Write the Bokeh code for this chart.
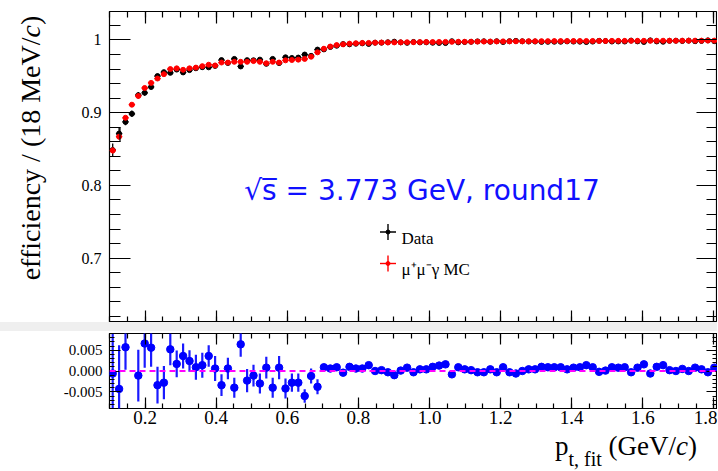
import numpy as np
from bokeh.plotting import figure
from bokeh.models import (Range1d, FixedTicker, LinearAxis, Label, Spacer, Span, Div,
                          CustomJSTickFormatter, ColumnDataSource)
from bokeh.layouts import column, row
from bokeh.embed import file_html
from bokeh.resources import INLINE

# ------------------------------------------------------------------ data
pt_fit = [
    0.109, 0.127, 0.145, 0.163, 0.181, 0.199, 0.217, 0.235, 0.253, 0.271,
    0.289, 0.307, 0.325, 0.343, 0.361, 0.379, 0.397, 0.415, 0.433, 0.451,
    0.469, 0.487, 0.505, 0.523, 0.541, 0.559, 0.577, 0.595, 0.613, 0.631,
    0.649, 0.667, 0.685, 0.703, 0.721, 0.739, 0.757, 0.775, 0.793, 0.811,
    0.829, 0.847, 0.865, 0.883, 0.901, 0.919, 0.937, 0.955, 0.973, 0.991,
    1.009, 1.027, 1.045, 1.063, 1.081, 1.099, 1.117, 1.135, 1.153, 1.171,
    1.189, 1.207, 1.225, 1.243, 1.261, 1.279, 1.297, 1.315, 1.333, 1.351,
    1.369, 1.387, 1.405, 1.423, 1.441, 1.459, 1.477, 1.495, 1.513, 1.531,
    1.549, 1.567, 1.585, 1.603, 1.621, 1.639, 1.657, 1.675, 1.693, 1.711,
    1.729, 1.747, 1.765, 1.783, 1.801]
bin_half_width = 0.009

eff_data = [
    0.8486, 0.8713, 0.8873, 0.8985, 0.9241, 0.9274, 0.9354, 0.9504, 0.9558, 0.9548,
    0.9593, 0.9554, 0.9586, 0.9611, 0.9626, 0.9624, 0.9644, 0.9724, 0.9684, 0.9740,
    0.9636, 0.9723, 0.9721, 0.9730, 0.9672, 0.9740, 0.9682, 0.9762, 0.9753, 0.9758,
    0.9800, 0.9782, 0.9868, 0.9871, 0.9904, 0.9921, 0.9944, 0.9940, 0.9949, 0.9954,
    0.9946, 0.9963, 0.9963, 0.9969, 0.9977, 0.9967, 0.9961, 0.9973, 0.9967, 0.9968,
    0.9962, 0.9960, 0.9958, 0.9983, 0.9967, 0.9972, 0.9975, 0.9981, 0.9982, 0.9975,
    0.9983, 0.9972, 0.9984, 0.9988, 0.9982, 0.9979, 0.9979, 0.9974, 0.9975, 0.9976,
    0.9976, 0.9981, 0.9978, 0.9977, 0.9972, 0.9978, 0.9989, 0.9986, 0.9979, 0.9980,
    0.9979, 0.9992, 0.9981, 0.9973, 0.9995, 0.9980, 0.9976, 0.9988, 0.9990, 0.9986,
    0.9991, 0.9983, 0.9987, 0.9995, 0.9984]
eff_data_err = [
    0.0090, 0.0080, 0.0045, 0.0045, 0.0045, 0.0042, 0.0036, 0.0033, 0.0030, 0.0028,
    0.0025, 0.0023, 0.0021, 0.0022, 0.0022, 0.0020, 0.0022, 0.0020, 0.0020, 0.0019,
    0.0022, 0.0021, 0.0019, 0.0018, 0.0019, 0.0018, 0.0020, 0.0018, 0.0016, 0.0016,
    0.0012, 0.0013, 0.0013, 0.0006, 0.0006, 0.0006, 0.0006, 0.0006, 0.0006, 0.0006,
    0.0006, 0.0004, 0.0004, 0.0004, 0.0004, 0.0004, 0.0004, 0.0004, 0.0004, 0.0004,
    0.0004, 0.0004, 0.0004, 0.0004, 0.0004, 0.0004, 0.0004, 0.0004, 0.0004, 0.0004,
    0.0004, 0.0004, 0.0004, 0.0004, 0.0004, 0.0004, 0.0004, 0.0004, 0.0004, 0.0004,
    0.0004, 0.0004, 0.0004, 0.0004, 0.0004, 0.0004, 0.0004, 0.0004, 0.0004, 0.0004,
    0.0004, 0.0004, 0.0004, 0.0004, 0.0004, 0.0004, 0.0004, 0.0004, 0.0004, 0.0004,
    0.0004, 0.0004, 0.0004, 0.0004, 0.0004]

eff_mc = [
    0.848, 0.867, 0.893, 0.911, 0.923, 0.934, 0.941, 0.947, 0.953, 0.960,
    0.961, 0.959, 0.961, 0.962, 0.964, 0.966, 0.965, 0.969, 0.969, 0.970,
    0.970, 0.970, 0.971, 0.970, 0.968, 0.970, 0.969, 0.972, 0.9725, 0.973,
    0.974, 0.977, 0.983, 0.988, 0.991, 0.993, 0.994, 0.995, 0.9955, 0.996,
    0.996, 0.9963, 0.9965, 0.9966, 0.9967, 0.9968, 0.9969, 0.9970, 0.9971, 0.9972,
    0.9972, 0.9973, 0.9974, 0.9975, 0.9976, 0.9976, 0.9977, 0.9978, 0.9979, 0.9979,
    0.9980, 0.9981, 0.9981, 0.9982, 0.9982, 0.9983, 0.9983, 0.9984, 0.9984, 0.9985,
    0.9985, 0.9985, 0.9986, 0.9986, 0.9986, 0.9987, 0.9987, 0.9987, 0.9988, 0.9988,
    0.9988, 0.9989, 0.9989, 0.9989, 0.9989, 0.9990, 0.9990, 0.9990, 0.9990, 0.9991,
    0.9991, 0.9991, 0.9991, 0.9992, 0.9992]
eff_mc_err = [
    0.0040, 0.0035, 0.0025, 0.0022, 0.0020, 0.0018, 0.0016, 0.0015, 0.0014, 0.0013,
    0.0012, 0.0010, 0.0010, 0.0010, 0.0010, 0.0010, 0.0010, 0.0010, 0.0010, 0.0010,
    0.0010, 0.0010, 0.0010, 0.0010, 0.0010, 0.0010, 0.0010, 0.0010, 0.0010, 0.0010,
    0.0010, 0.0010, 0.0010, 0.0003, 0.0003, 0.0003, 0.0003, 0.0003, 0.0003, 0.0003,
    0.0003, 0.0003, 0.0003, 0.0003, 0.0003, 0.0003, 0.0003, 0.0003, 0.0003, 0.0003,
    0.0003, 0.0003, 0.0003, 0.0003, 0.0003, 0.0003, 0.0003, 0.0003, 0.0003, 0.0003,
    0.0003, 0.0003, 0.0003, 0.0003, 0.0003, 0.0003, 0.0003, 0.0003, 0.0003, 0.0003,
    0.0003, 0.0003, 0.0003, 0.0003, 0.0003, 0.0003, 0.0003, 0.0003, 0.0003, 0.0003,
    0.0003, 0.0003, 0.0003, 0.0003, 0.0003, 0.0003, 0.0003, 0.0003, 0.0003, 0.0003,
    0.0003, 0.0003, 0.0003, 0.0003, 0.0003]

delta_eff = [
    -0.0006, -0.0043, 0.0057, 0.0125, -0.0011, 0.0066, 0.0056, -0.0034, -0.0028, 0.0052,
    0.0017, 0.0036, 0.0024, 0.0009, 0.0014, 0.0036, 0.0006, -0.0034, 0.0006, -0.0040,
    0.0064, -0.0023, -0.0011, -0.0030, 0.0008, -0.0040, 0.0008, -0.0042, -0.0028, -0.0028,
    -0.0060, -0.0012, -0.0038, 0.0009, 0.0006, 0.0009, -0.0004, 0.0010, 0.0006, 0.0006,
    0.0014, 0.0000, 0.0002, -0.0003, -0.0010, 0.0001, 0.0008, -0.0003, 0.0004, 0.0004,
    0.0010, 0.0013, 0.0016, -0.0008, 0.0009, 0.0004, 0.0002, -0.0003, -0.0003, 0.0004,
    -0.0003, 0.0009, -0.0003, -0.0006, 0.0000, 0.0004, 0.0004, 0.0010, 0.0009, 0.0009,
    0.0009, 0.0004, 0.0008, 0.0009, 0.0014, 0.0009, -0.0002, 0.0001, 0.0009, 0.0008,
    0.0009, -0.0003, 0.0008, 0.0016, -0.0006, 0.0010, 0.0014, 0.0002, 0.0000, 0.0005,
    0.0000, 0.0008, 0.0004, -0.0003, 0.0008]
delta_eff_err = [
    0.0120, 0.0105, 0.0054, 0.0030, 0.0062, 0.0058, 0.0046, 0.0044, 0.0040, 0.0038,
    0.0032, 0.0030, 0.0026, 0.0030, 0.0030, 0.0026, 0.0030, 0.0026, 0.0026, 0.0024,
    0.0030, 0.0028, 0.0026, 0.0024, 0.0026, 0.0024, 0.0028, 0.0024, 0.0022, 0.0022,
    0.0016, 0.0018, 0.0018, 0.0006, 0.0006, 0.0006, 0.0006, 0.0006, 0.0006, 0.0006,
    0.0006, 0.0006, 0.0006, 0.0006, 0.0006, 0.0006, 0.0006, 0.0006, 0.0006, 0.0006,
    0.0006, 0.0006, 0.0006, 0.0006, 0.0006, 0.0006, 0.0006, 0.0006, 0.0006, 0.0006,
    0.0006, 0.0006, 0.0006, 0.0006, 0.0006, 0.0006, 0.0006, 0.0006, 0.0006, 0.0006,
    0.0006, 0.0006, 0.0006, 0.0006, 0.0006, 0.0006, 0.0006, 0.0006, 0.0006, 0.0006,
    0.0006, 0.0006, 0.0006, 0.0006, 0.0006, 0.0006, 0.0006, 0.0006, 0.0006, 0.0006,
    0.0006, 0.0006, 0.0006, 0.0006, 0.0006]

x_ticks = [0.2, 0.4, 0.6, 0.8, 1.0, 1.2, 1.4, 1.6, 1.8]
x_tick_labels = ["0.2", "0.4", "0.6", "0.8", "1.0", "1.2", "1.4", "1.6", "1.8"]
y_top_ticks = [0.7, 0.8, 0.9, 1.0]
y_top_tick_labels = ["0.7", "0.8", "0.9", "1"]
y_bot_ticks = [-0.005, 0.0, 0.005]
y_bot_tick_labels = ["-0.005", "0.000", "0.005"]

energy_text = "\u221as\u0305 = 3.773 GeV, round17"
legend_labels = ["Data", "\u03bc\u207a\u03bc\u207b\u03b3 MC"]
y_title = ["efficiency / (18 MeV/", "c", ")"]
x_title = ["p", "t, fit", "(GeV/", "c", ")"]

for arr in (eff_data, eff_data_err, eff_mc, eff_mc_err, delta_eff, delta_eff_err):
    assert len(arr) == len(pt_fit)

# ------------------------------------------------------------------ layout (page pixels)
X_RANGE = (0.1, 1.81)
Y_TOP_RANGE = (0.6114, 1.0392)
Y_BOT_RANGE = (-0.009, 0.009)

W = 717
YDIV_W = 60
FRAME_L = 109
TOP_H, TOP_MT = 322, 11
GAP = 9
BOT_MT, BOT_FH, BOT_MB = 2, 75, 23
BOT_H = BOT_MT + BOT_FH + BOT_MB
XDIV_H = 471 - (TOP_H + GAP + BOT_H)

FRAME_R = W
TOP_FT = TOP_MT
TOP_FB = TOP_H
XDIV_TOP = TOP_H + GAP + BOT_H


def sx(px):
    return X_RANGE[0] + (px - FRAME_L) * (X_RANGE[1] - X_RANGE[0]) / (FRAME_R - FRAME_L)


def sy_top(py):
    return Y_TOP_RANGE[1] - (py - TOP_FT) * (Y_TOP_RANGE[1] - Y_TOP_RANGE[0]) / (TOP_FB - TOP_FT)


SERIF = "Liberation Serif"


def tick_formatter(tick_values, tick_texts):
    return CustomJSTickFormatter(args=dict(tv=tick_values, tt=tick_texts), code="""
        let best = 0;
        for (let i = 1; i < tv.length; i++) {
            if (Math.abs(tv[i] - tick) < Math.abs(tv[best] - tick)) best = i;
        }
        return tt[best];
    """)


def add_axis(fig, side, ticks, minor, tick_in, minor_in, labels=None,
             font_size="16px", standoff=5):
    ax = LinearAxis(ticker=FixedTicker(ticks=ticks, minor_ticks=list(minor)))
    ax.axis_line_color = None
    ax.major_tick_in = tick_in
    ax.major_tick_out = 0
    ax.minor_tick_in = minor_in
    ax.minor_tick_out = 0
    ax.major_tick_line_color = "black"
    ax.minor_tick_line_color = "black"
    ax.major_tick_line_width = 1.2
    ax.minor_tick_line_width = 1.2
    if labels is None:
        ax.formatter = CustomJSTickFormatter(code="return '';")
        ax.major_label_text_font_size = "0px"
        ax.major_label_standoff = 0
    else:
        ax.formatter = tick_formatter(ticks, labels)
        ax.major_label_text_font = SERIF
        ax.major_label_text_font_size = font_size
        ax.major_label_text_color = "black"
        ax.major_label_standoff = standoff
    fig.add_layout(ax, side)
    return ax


x_minor = [round(v, 3) for v in np.arange(0.10, 1.8001, 0.05)]
y_top_minor = [round(v, 3) for v in np.arange(0.62, 1.0401, 0.02)]
y_bot_minor = [round(v, 4) for v in np.arange(-0.009, 0.00901, 0.001)]

# ------------------------------------------------------------------ top panel
top = figure(width=W - YDIV_W, height=TOP_H, x_range=Range1d(*X_RANGE),
             y_range=Range1d(*Y_TOP_RANGE),
             output_backend="svg", toolbar_location=None,
             x_axis_location=None, y_axis_location=None,
             min_border_left=FRAME_L - YDIV_W, min_border_right=0,
             min_border_top=TOP_MT, min_border_bottom=0)
top.outline_line_color = "black"
top.outline_line_width = 1.2
top.background_fill_color = "white"
top.border_fill_color = "white"

add_axis(top, "left", y_top_ticks, y_top_minor, 21, 11, y_top_tick_labels, "16px", 8)
add_axis(top, "right", y_top_ticks, y_top_minor, 21, 11)
add_axis(top, "above", x_ticks, x_minor, 12, 6)
add_axis(top, "below", x_ticks, x_minor, 12, 6)
for g in top.grid:
    g.visible = False

pt_arr = np.array(pt_fit)
d_arr, de_arr = np.array(eff_data), np.array(eff_data_err)
m_arr, me_arr = np.array(eff_mc), np.array(eff_mc_err)

src_data = ColumnDataSource(dict(x=pt_arr, y=d_arr, lo=d_arr - de_arr, hi=d_arr + de_arr,
                                 xl=pt_arr - bin_half_width, xr=pt_arr + bin_half_width))
src_mc = ColumnDataSource(dict(x=pt_arr, y=m_arr, lo=m_arr - me_arr, hi=m_arr + me_arr,
                               xl=pt_arr - bin_half_width, xr=pt_arr + bin_half_width))

for src, col in ((src_data, "black"), (src_mc, "red")):
    top.segment(x0="x", y0="lo", x1="x", y1="hi", source=src, line_color=col, line_width=1.3)
    top.segment(x0="xl", y0="y", x1="xr", y1="y", source=src, line_color=col, line_width=1.3)
    top.scatter("x", "y", source=src, size=5, fill_color=col, line_color=col)

# small frame artefact near the first bins (vertical line joining two minor ticks)
top.segment(x0=[sx(119.5)], y0=[0.86], x1=[sx(119.5)], y1=[0.88], line_color="black", line_width=1.2)

top.add_layout(Label(x=sx(421.5), y=sy_top(190), text=energy_text, text_align="center",
                     text_baseline="alphabetic", text_font="DejaVu Sans", text_font_size="28px",
                     text_color="#1010ff"))

# legend (ROOT-style crosses)
leg_rows = [(231.5, "black", 237.5), (263.0, "red", 269.0)]
for (cy, col, base), lab in zip(leg_rows, legend_labels):
    cx = 387.5
    top.segment(x0=[sx(cx - 8)], y0=[sy_top(cy)], x1=[sx(cx + 8)], y1=[sy_top(cy)],
                line_color=col, line_width=1.4)
    top.segment(x0=[sx(cx)], y0=[sy_top(cy - 8)], x1=[sx(cx)], y1=[sy_top(cy + 8)],
                line_color=col, line_width=1.4)
    top.scatter([sx(cx)], [sy_top(cy)], size=4, color=col)
    top.add_layout(Label(x=sx(401), y=sy_top(base), text=lab, text_align="left",
                         text_baseline="alphabetic", text_font=SERIF, text_font_size="17px",
                         text_color="black"))

# rotated y-axis title in an HTML block (italic c)
Y_CENTER, Y_BASE_X, YT_FS = 148, 40, 28
yt_base_off = (YT_FS - 1.107 * YT_FS) / 2 + 0.891 * YT_FS
yt_top = 296
ydiv_html = (
    f'<div style="position:relative;width:{YDIV_W}px;height:{TOP_H}px;overflow:hidden;">'
    f'<div style="position:absolute;left:{Y_BASE_X - yt_base_off:.1f}px;top:{yt_top}px;'
    f'width:{2 * (yt_top - Y_CENTER)}px;text-align:center;white-space:nowrap;'
    f'transform:rotate(-90deg);transform-origin:0 0;'
    f"font-family:'{SERIF}';font-size:{YT_FS}px;line-height:{YT_FS}px;color:black;\">"
    f'{y_title[0]}<i>{y_title[1]}</i>{y_title[2]}</div></div>')
ydiv = Div(text=ydiv_html, width=YDIV_W, height=TOP_H, margin=0)

# ------------------------------------------------------------------ bottom panel
bot = figure(width=W, height=BOT_H, x_range=top.x_range, y_range=Range1d(*Y_BOT_RANGE),
             output_backend="svg", toolbar_location=None,
             x_axis_location=None, y_axis_location=None,
             min_border_left=FRAME_L, min_border_right=0, min_border_top=BOT_MT,
             min_border_bottom=BOT_MB)
bot.outline_line_color = "black"
bot.outline_line_width = 1.2
bot.background_fill_color = "white"
bot.border_fill_color = "white"

add_axis(bot, "left", y_bot_ticks, y_bot_minor, 11, 5, y_bot_tick_labels, "15px", 7)
add_axis(bot, "right", y_bot_ticks, y_bot_minor, 11, 5)
add_axis(bot, "above", x_ticks, x_minor, 11, 5)
add_axis(bot, "below", x_ticks, x_minor, 11, 5, x_tick_labels, "19px", 2)
for g in bot.grid:
    g.visible = False

bot.add_layout(Span(location=0.0, dimension="width", line_color="#ff00ff",
                    line_dash="6 4", line_width=2))

r_arr, re_arr = np.array(delta_eff), np.array(delta_eff_err)
src_diff = ColumnDataSource(dict(x=pt_arr, y=r_arr, lo=r_arr - re_arr, hi=r_arr + re_arr))
bot.segment(x0="x", y0="lo", x1="x", y1="hi", source=src_diff, line_color="#1a1aff", line_width=2.2)
bot.scatter("x", "y", source=src_diff, size=7.5, fill_color="#0000ff", line_color="#0000ff")

# x-axis title p_{t, fit} (GeV/c) in an HTML block
XT_FS, XT_SUB_FS, XT_LEFT, XT_BASE, XT_SUB_DROP, XT_LH = 27, 20, 555, 455.5, 11, 18
xt_base_off = (XT_LH - 1.107 * XT_FS) / 2 + 0.891 * XT_FS
xdiv_html = (
    f'<div style="position:relative;width:{W}px;height:{XDIV_H}px;overflow:hidden;">'
    f'<div style="position:absolute;left:{XT_LEFT}px;top:{XT_BASE - XDIV_TOP - xt_base_off:.1f}px;'
    f"white-space:nowrap;font-family:'{SERIF}';font-size:{XT_FS}px;line-height:{XT_LH}px;color:black;\">"
    f'{x_title[0]}<span style="font-size:{XT_SUB_FS}px;vertical-align:-{XT_SUB_DROP}px;">{x_title[1]}</span>'
    f' {x_title[2]}<i>{x_title[3]}</i>{x_title[4]}</div></div>')
xdiv = Div(text=xdiv_html, width=W, height=XDIV_H, margin=0)

gap = Spacer(width=W, height=GAP, styles={"background-color": "#efefef"})

layout = column(row(ydiv, top, spacing=0), gap, bot, xdiv, spacing=0)

with open("out.html", "w") as f:
    f.write(file_html(layout, INLINE))
